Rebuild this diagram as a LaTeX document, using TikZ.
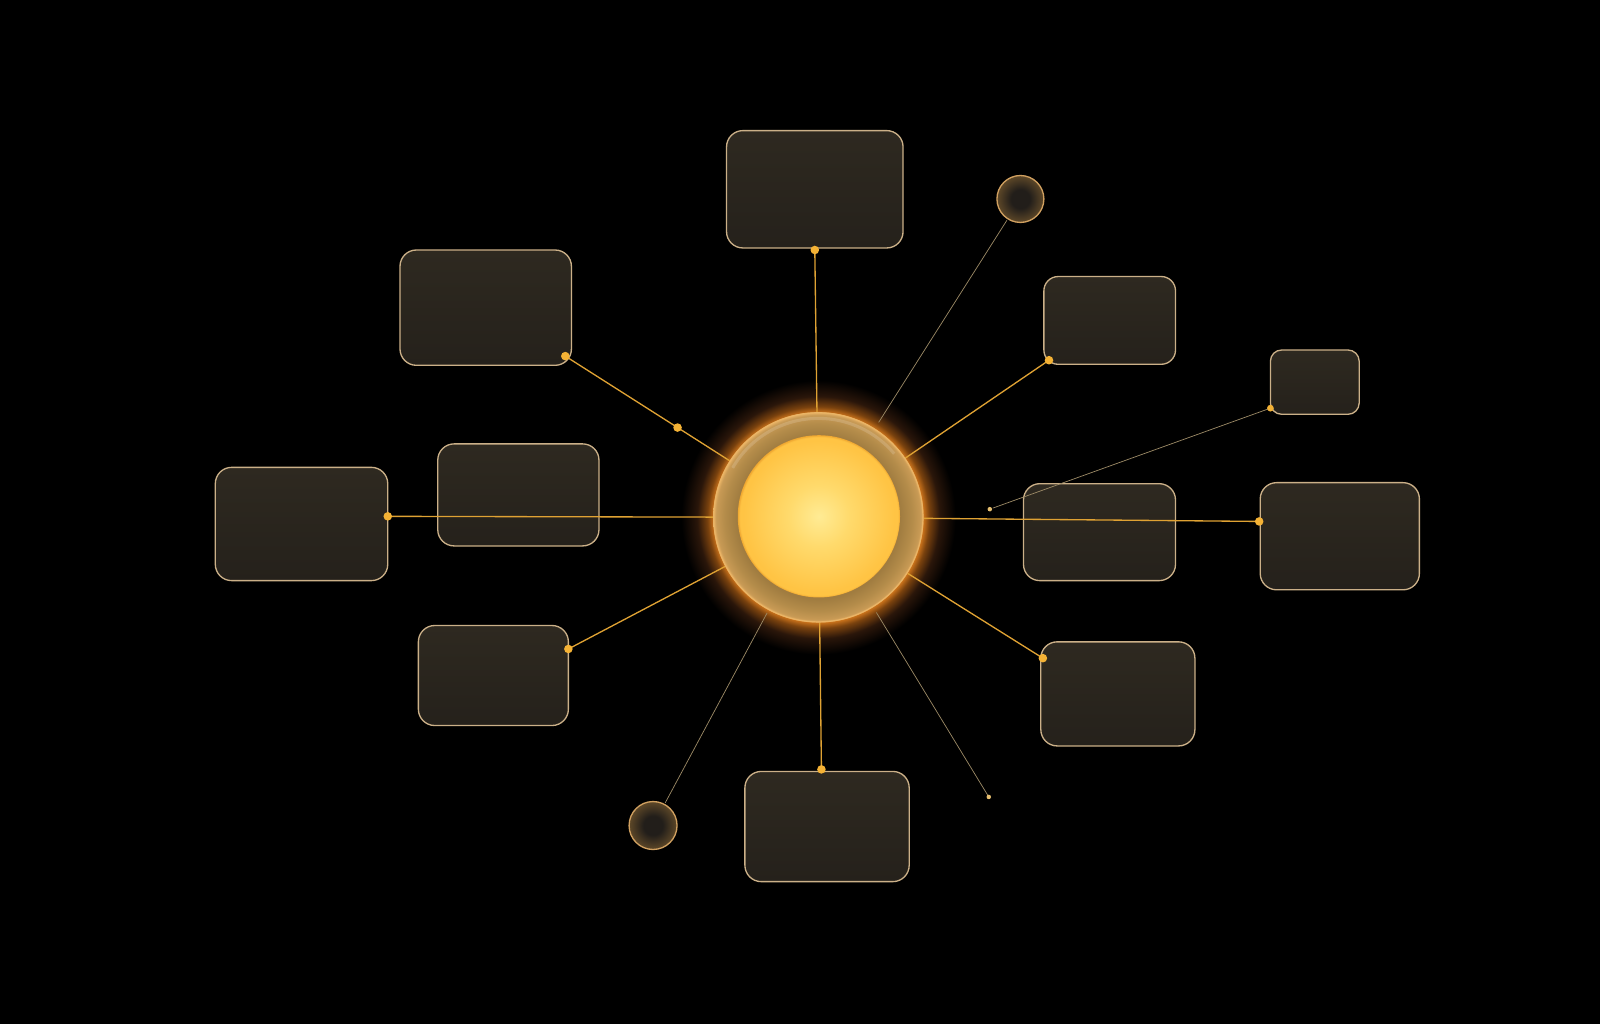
\documentclass[tikz,border=0pt]{standalone}
\usetikzlibrary{calc}
\definecolor{boxedge}{HTML}{CBB088}
\definecolor{boxA}{HTML}{2E2920}
\definecolor{boxB}{HTML}{25211B}
\definecolor{gold}{HTML}{DFA233}
\definecolor{dotc}{HTML}{F4B235}
\definecolor{thinc}{HTML}{9C8A66}
\definecolor{fdot}{HTML}{E8C070}
\definecolor{coreA}{HTML}{FFEB94}
\definecolor{coreB}{HTML}{FFDA6C}
\definecolor{coreC}{HTML}{FFC444}
\definecolor{coreD}{HTML}{EEA630}
\definecolor{ringA}{HTML}{A07C40}
\definecolor{ringB}{HTML}{B48C4A}
\definecolor{ringC}{HTML}{C89A55}
\definecolor{ringD}{HTML}{EAB466}
\definecolor{glowA}{HTML}{D0761C}
\definecolor{glowB}{HTML}{7A420E}
\definecolor{glowC}{HTML}{2A160A}
\definecolor{scA}{HTML}{221E1A}
\definecolor{scB}{HTML}{5E4828}
\definecolor{scedge}{HTML}{D0A060}
% note: the circle's edge lies at 25bp of the shading
\pgfdeclareradialshading{glowshade}{\pgfpoint{0bp}{0bp}}{color(0bp)=(glowA); color(18.3bp)=(glowA); color(19.4bp)=(glowB); color(21.2bp)=(glowC); color(24bp)=(black); color(50bp)=(black)}
\pgfdeclareradialshading{ringshade}{\pgfpoint{0bp}{0bp}}{color(0bp)=(ringA); color(19.4bp)=(ringA); color(22.3bp)=(ringB); color(24.3bp)=(ringC); color(25bp)=(ringD); color(50bp)=(ringD)}
\pgfdeclareradialshading{coreshade}{\pgfpoint{0bp}{0bp}}{color(0bp)=(coreA); color(9.4bp)=(coreB); color(23.3bp)=(coreC); color(24.4bp)=(coreC); color(25bp)=(coreD); color(50bp)=(coreD)}
\pgfdeclareradialshading{scshade}{\pgfpoint{0bp}{0bp}}{color(0bp)=(scA); color(10bp)=(scA); color(25bp)=(scB); color(50bp)=(scB)}
\tikzset{
  box/.style={rectangle, rounded corners=16pt, draw=boxedge, line width=1.3pt,
    top color=boxA, bottom color=boxB, inner sep=0pt},
  goldline/.style={draw=gold, line width=1.3pt},
  thinline/.style={draw=thinc, line width=0.7pt},
  smallcirc/.style={circle, minimum size=46pt, inner sep=0pt, shading=scshade, draw=scedge, line width=1.3pt},
  dotmark/.style={fill=dotc},
}
\begin{document}
\begin{tikzpicture}[x=1pt,y=-1pt]
\fill[black] (0,0) rectangle (1568,1003.5);
\useasboundingbox (0,0) rectangle (1568,1003.5);

% glow behind hub
\shade[shading=glowshade] (802,507) circle[radius=140];

% boxes
\node[box, minimum width=173pt, minimum height=115pt] (b1) at (798.5,185.5) {};
\node[box, minimum width=168pt, minimum height=113pt] (b2) at (476,301.5) {};
\node[box, minimum width=169pt, minimum height=111pt] (b3) at (295.5,513.5) {};
\node[box, minimum width=158pt, minimum height=100pt] (b4) at (508,485) {};
\node[box, minimum width=147pt, minimum height=98pt] (b5) at (483.5,662) {};
\node[box, minimum width=161pt, minimum height=108pt] (b6) at (810.5,810) {};
\node[box, minimum width=151pt, minimum height=102pt] (b7) at (1095.5,680) {};
\node[box, minimum width=149pt, minimum height=95pt] (b8) at (1077.5,521.5) {};
\node[box, minimum width=156pt, minimum height=105pt] (b9) at (1313,525.5) {};
\node[box, rounded corners=11pt, minimum width=87pt, minimum height=63pt] (b10) at (1288.5,374.5) {};
\node[box, rounded corners=14pt, minimum width=129pt, minimum height=86pt] (b11) at (1087.5,314) {};

% small circles
\node[smallcirc] (c1) at (1000,195) {};
\node[smallcirc, minimum size=47pt] (c2) at (640,809) {};

% hub (placed now so that connectors can refer to it)
\node[circle, minimum size=206pt, inner sep=0pt] (hub) at (802,507) {};

% connector end points on the boxes
\coordinate (d1) at (798.5,245);
\coordinate (d2) at (554,349);
\coordinate (dm) at (664,419);
\coordinate (d3) at (380,506);
\coordinate (d5) at (557,636);
\coordinate (d6) at (805,754);
\coordinate (d7) at (1022,645);
\coordinate (d9) at (1234,511);
\coordinate (d10) at (1245,400);
\coordinate (d11) at (1028,353);
\coordinate (f1) at (970,499);
\coordinate (f2) at (969,781);

% connectors
\draw[goldline] (hub) -- (d1);
\draw[goldline] (hub) -- (dm) -- (d2);
\draw[goldline] (hub) -- (d3);
\draw[goldline] (hub) -- (d5);
\draw[goldline] (hub) -- (d6);
\draw[goldline] (hub) -- (d7);
\draw[goldline] (hub) -- (d9);
\draw[goldline] (hub) -- (d11);
\draw[thinline, shorten <=1pt, shorten >=7pt] (c1) -- (hub);
\draw[thinline, shorten <=1pt, shorten >=3pt] (c2) -- (hub);
\draw[thinline, shorten >=6pt] (f2) -- (hub);
\draw[thinline, shorten <=3pt] (f1) -- (d10);

% dots
\foreach \p in {d1,d2,dm,d3,d5,d6,d7,d9,d11}{\fill[dotmark] (\p) circle[radius=4.2];}
\fill[dotmark] (d10) circle[radius=3.3];
\fill[fdot] (f1) circle[radius=2.2];
\fill[fdot] (f2) circle[radius=2.2];

% hub drawing
\shade[shading=ringshade] (802,507) circle[radius=103];
\draw[ringD, line width=1.2pt] (802,507) circle[radius=102.5];
\draw[white, opacity=0.15, line width=3pt] ($(802,507)+(-150:97)$) arc[start angle=-150, end angle=-40, radius=97];
\node[circle, minimum size=159pt, inner sep=0pt, shading=coreshade] (core) at (802.5,506) {};
\end{tikzpicture}
\end{document}
